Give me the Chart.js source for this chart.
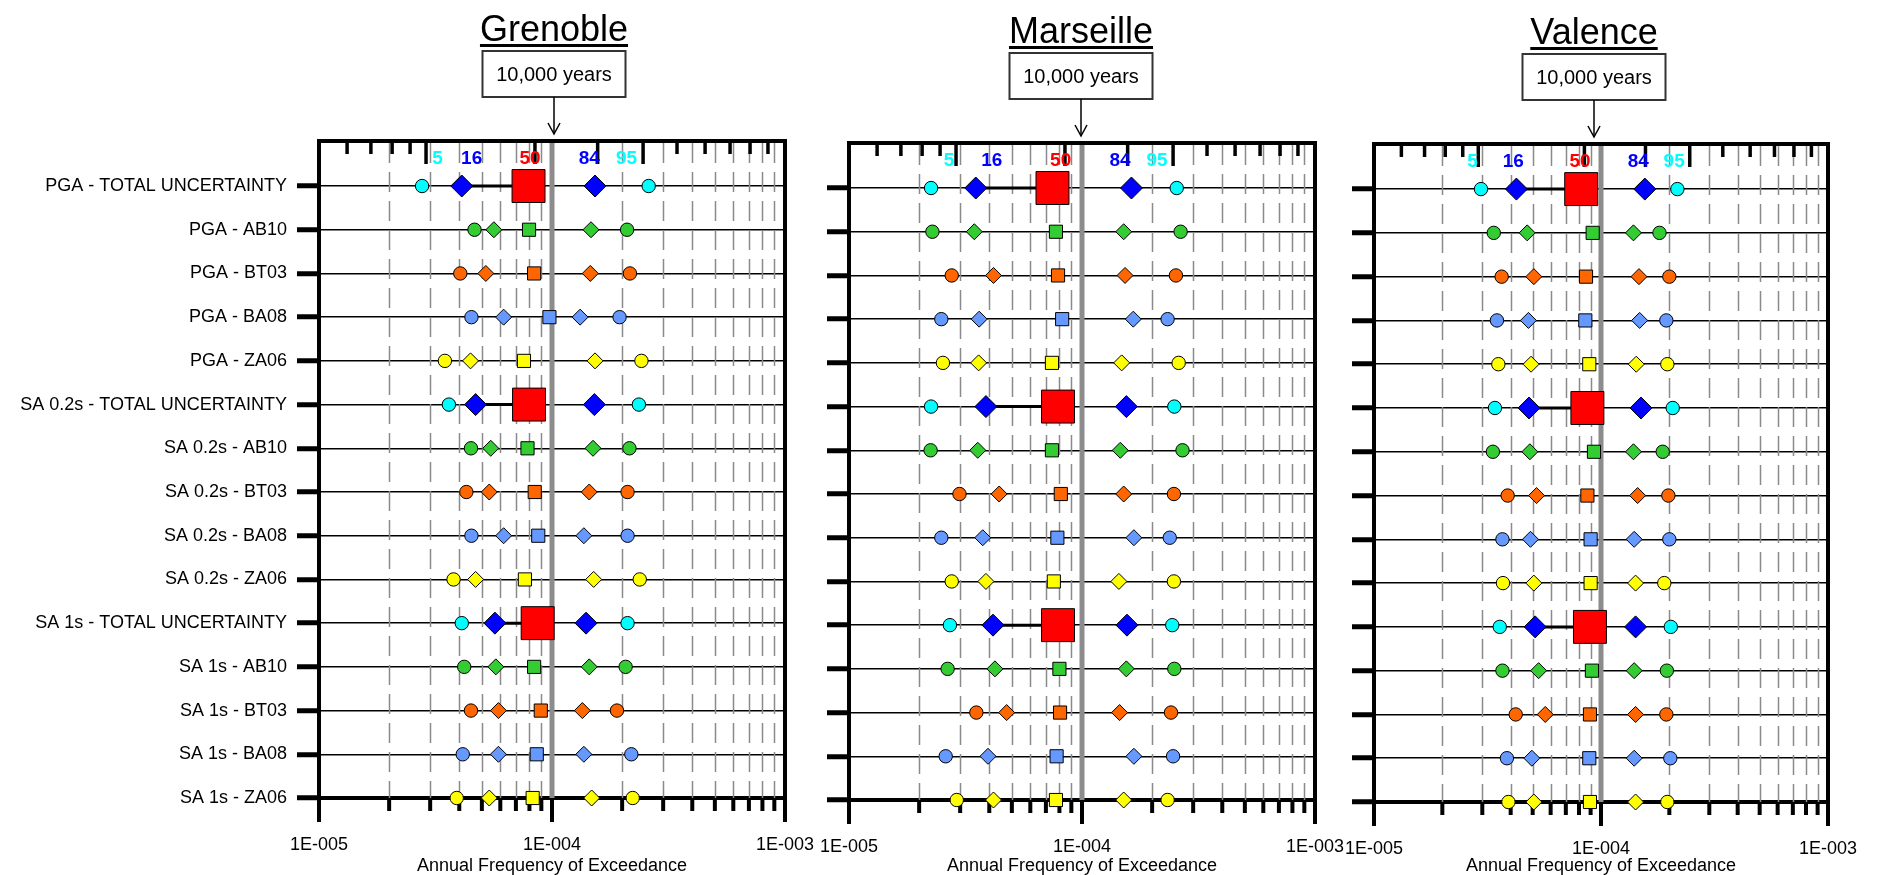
<!DOCTYPE html>
<html><head><meta charset="utf-8">
<script src="https://cdn.jsdelivr.net/npm/chart.js@4/dist/chart.umd.min.js"></script>
<style>
html,body{margin:0;padding:0;background:#fff;width:1877px;height:875px;overflow:hidden;}
canvas{position:absolute;top:0;}
</style></head><body>
<canvas id="g" style="left:0px" width="830" height="875"></canvas>
<canvas id="m" style="left:800px" width="560" height="875"></canvas>
<canvas id="v" style="left:1330px" width="547" height="875"></canvas>
<script>
// ---------- DATA ----------
const categories = [
  'PGA - TOTAL UNCERTAINTY','PGA - AB10','PGA - BT03','PGA - BA08','PGA - ZA06',
  'SA 0.2s - TOTAL UNCERTAINTY','SA 0.2s - AB10','SA 0.2s - BT03','SA 0.2s - BA08','SA 0.2s - ZA06',
  'SA 1s - TOTAL UNCERTAINTY','SA 1s - AB10','SA 1s - BT03','SA 1s - BA08','SA 1s - ZA06'
];
const percentileLabels = ['5','16','50','84','95'];
const xTickValues = [1e-5, 1e-4, 1e-3];
const xTickLabels = ['1E-005','1E-004','1E-003'];
const minorTickValues = [2e-5,3e-5,4e-5,5e-5,6e-5,7e-5,8e-5,9e-5,2e-4,3e-4,4e-4,5e-4,6e-4,7e-4,8e-4,9e-4];
const topTickValues = [1.32e-5,1.67e-5,2.06e-5,2.46e-5,2.88e-5,8.45e-5,1.57e-4,2.46e-4,3.44e-4,4.54e-4,5.81e-4,7.08e-4,8.45e-4];
const topTickLong   = [false,false,false,false,true,true,true,true,false,false,false,false,false];
const referenceFrequency = 1e-4;

// Grenoble
const grenobleP5  = [2.77e-5,4.65e-5,4.04e-5,4.51e-5,3.47e-5,3.61e-5,4.49e-5,4.29e-5,4.51e-5,3.78e-5,4.10e-5,4.20e-5,4.49e-5,4.14e-5,3.90e-5];
const grenobleP16 = [4.10e-5,5.63e-5,5.20e-5,6.20e-5,4.47e-5,4.70e-5,5.46e-5,5.38e-5,6.20e-5,4.70e-5,5.69e-5,5.74e-5,5.89e-5,5.89e-5,5.38e-5];
const grenobleP50 = [7.93e-5,7.97e-5,8.38e-5,9.75e-5,7.58e-5,7.97e-5,7.85e-5,8.43e-5,8.73e-5,7.65e-5,8.68e-5,8.38e-5,8.95e-5,8.60e-5,8.26e-5];
const grenobleP84 = [1.53e-4,1.47e-4,1.46e-4,1.32e-4,1.53e-4,1.52e-4,1.50e-4,1.445e-4,1.37e-4,1.51e-4,1.40e-4,1.445e-4,1.35e-4,1.37e-4,1.48e-4];
const grenobleP95 = [2.60e-4,2.10e-4,2.16e-4,1.95e-4,2.42e-4,2.36e-4,2.15e-4,2.11e-4,2.11e-4,2.38e-4,2.11e-4,2.07e-4,1.90e-4,2.19e-4,2.22e-4];
// Marseille
const marseilleP5  = [2.25e-5,2.28e-5,2.76e-5,2.49e-5,2.53e-5,2.25e-5,2.24e-5,2.98e-5,2.49e-5,2.76e-5,2.71e-5,2.65e-5,3.52e-5,2.60e-5,2.90e-5];
const marseilleP16 = [3.50e-5,3.45e-5,4.17e-5,3.62e-5,3.60e-5,3.87e-5,3.57e-5,4.41e-5,3.75e-5,3.87e-5,4.15e-5,4.23e-5,4.75e-5,3.95e-5,4.17e-5];
const marseilleP50 = [7.47e-5,7.73e-5,7.89e-5,8.22e-5,7.43e-5,7.89e-5,7.43e-5,8.11e-5,7.84e-5,7.57e-5,7.89e-5,8.00e-5,8.05e-5,7.78e-5,7.73e-5];
const marseilleP84 = [1.63e-4,1.51e-4,1.53e-4,1.66e-4,1.48e-4,1.55e-4,1.46e-4,1.51e-4,1.67e-4,1.44e-4,1.56e-4,1.55e-4,1.45e-4,1.67e-4,1.51e-4];
const marseilleP95 = [2.55e-4,2.65e-4,2.53e-4,2.33e-4,2.60e-4,2.49e-4,2.70e-4,2.48e-4,2.38e-4,2.48e-4,2.44e-4,2.49e-4,2.41e-4,2.46e-4,2.33e-4];
// Valence
const valenceP5  = [2.96e-5,3.37e-5,3.65e-5,3.48e-5,3.53e-5,3.41e-5,3.34e-5,3.88e-5,3.68e-5,3.70e-5,3.58e-5,3.68e-5,4.21e-5,3.85e-5,3.91e-5];
const valenceP16 = [4.24e-5,4.73e-5,5.06e-5,4.79e-5,4.92e-5,4.82e-5,4.86e-5,5.20e-5,4.89e-5,5.06e-5,5.13e-5,5.31e-5,5.68e-5,4.96e-5,5.06e-5];
const valenceP50 = [8.18e-5,9.19e-5,8.59e-5,8.53e-5,8.88e-5,8.71e-5,9.31e-5,8.71e-5,9.00e-5,9.00e-5,8.94e-5,9.12e-5,8.94e-5,8.88e-5,8.94e-5];
const valenceP84 = [1.56e-4,1.39e-4,1.47e-4,1.48e-4,1.43e-4,1.50e-4,1.39e-4,1.45e-4,1.40e-4,1.42e-4,1.42e-4,1.40e-4,1.42e-4,1.40e-4,1.42e-4];
const valenceP95 = [2.17e-4,1.81e-4,2.00e-4,1.94e-4,1.96e-4,2.07e-4,1.87e-4,1.98e-4,2.00e-4,1.90e-4,2.03e-4,1.95e-4,1.94e-4,2.02e-4,1.96e-4];

// positions of the percentile captions (as frequencies) per panel
const grenobleLabelAt  = [3.23e-5,4.52e-5,8.05e-5,1.445e-4,2.09e-4];
const marseilleLabelAt = [2.69e-5,4.10e-5,8.10e-5,1.456e-4,2.10e-4];
const valenceLabelAt   = [2.72e-5,4.11e-5,8.08e-5,1.46e-4,2.10e-4];

// ---------- STYLES ----------
const FONT = "'Liberation Sans', Arial, sans-serif";
const modelColor = { 'AB10':'#33CC33', 'BT03':'#FF6600', 'BA08':'#6699FF', 'ZA06':'#FFFF00' };
const totalColors = ['#00FFFF','#0000FF','#FF0000','#0000FF','#00FFFF'];
const labelColors = ['#00FFFF','#0000FF','#FF0000','#0000FF','#00FFFF'];
const pctShapes = ['circle','rectRot','rect','rectRot','circle'];
const modelOf = i => categories[i].split(' - ')[1];
const isTotal = i => modelOf(i) === 'TOTAL UNCERTAINTY';
function colorFor(k, i) { return isTotal(i) ? totalColors[k] : modelColor[modelOf(i)]; }
function sizeFor(k, i) {
  const s = pctShapes[k];
  if (s === 'circle') return 6.7;
  if (s === 'rectRot') return isTotal(i) ? 11 : 8;
  return isTotal(i) ? 23.3 : 9.3;
}

function panelPlugin(cfg) {
  return {
    id: 'panel_' + cfg.id,
    beforeDatasetsDraw(chart) {
      const {ctx, chartArea: a, scales: {x}} = chart;
      ctx.save();
      // dashed vertical grid
      ctx.strokeStyle = '#8a8a8a'; ctx.lineWidth = 1.5; ctx.setLineDash([20, 9]);
      minorTickValues.forEach(v => {
        const px = Math.round(x.getPixelForValue(v)) + 0.5;
        ctx.beginPath(); ctx.moveTo(px, a.top + 2); ctx.lineTo(px, a.bottom); ctx.stroke();
      });
      ctx.setLineDash([]);
      // reference line 1e-4
      const rx = x.getPixelForValue(referenceFrequency);
      ctx.strokeStyle = '#8c8c8c'; ctx.lineWidth = 5;
      ctx.beginPath(); ctx.moveTo(rx, a.top); ctx.lineTo(rx, a.bottom); ctx.stroke();
      // bottom ticks
      ctx.strokeStyle = '#000'; ctx.lineWidth = 4;
      minorTickValues.forEach(v => {
        const px = x.getPixelForValue(v);
        ctx.beginPath(); ctx.moveTo(px, a.bottom); ctx.lineTo(px, a.bottom + 13); ctx.stroke();
      });
      xTickValues.forEach(v => {
        const px = x.getPixelForValue(v);
        ctx.beginPath(); ctx.moveTo(px, a.bottom); ctx.lineTo(px, a.bottom + 24); ctx.stroke();
      });
      // top & right border
      ctx.lineWidth = 4;
      ctx.beginPath(); ctx.moveTo(a.left - 2, a.top); ctx.lineTo(a.right + 2, a.top); ctx.stroke();
      ctx.beginPath(); ctx.moveTo(a.right, a.top - 2); ctx.lineTo(a.right, a.bottom + 24); ctx.stroke();
      // top ticks
      ctx.lineWidth = 3.5;
      topTickValues.forEach((v, j) => {
        const px = x.getPixelForValue(v);
        ctx.beginPath(); ctx.moveTo(px, a.top); ctx.lineTo(px, a.top + (topTickLong[j] ? 23 : 13)); ctx.stroke();
      });
      // percentile captions
      ctx.font = 'bold 19px ' + FONT; ctx.textAlign = 'center'; ctx.textBaseline = 'middle';
      percentileLabels.forEach((t, k) => {
        ctx.fillStyle = labelColors[k];
        ctx.fillText(t, x.getPixelForValue(cfg.labelAt[k]), a.top + 18);
      });
      // title, box, arrow
      const cx = rx + cfg.dx;
      ctx.fillStyle = '#000';
      ctx.font = '36px ' + FONT; ctx.textAlign = 'center'; ctx.textBaseline = 'alphabetic';
      const tb = a.top - 100;
      ctx.fillText(cfg.title, cx, tb);
      const tw = ctx.measureText(cfg.title).width;
      ctx.fillRect(cx - tw / 2, tb + 3, tw, 3);
      ctx.strokeStyle = '#333'; ctx.lineWidth = 2;
      ctx.strokeRect(cx - 71.5, a.top - 90, 143, 46);
      ctx.font = '20px ' + FONT; ctx.textBaseline = 'middle';
      ctx.fillText('10,000 years', cx, a.top - 66);
      ctx.strokeStyle = '#000'; ctx.lineWidth = 1.5;
      ctx.beginPath(); ctx.moveTo(cx, a.top - 44); ctx.lineTo(cx, a.top - 7); ctx.stroke();
      ctx.beginPath(); ctx.moveTo(cx - 6, a.top - 18); ctx.lineTo(cx, a.top - 7); ctx.lineTo(cx + 6, a.top - 18); ctx.stroke();
      ctx.restore();
    }
  };
}

function makePanel(cfg) {
  const datasets = [];
  categories.forEach((c, i) => {
    if (isTotal(i)) {
      datasets.push({
        data: [{x: cfg.values[1][i], y: i}, {x: cfg.values[2][i], y: i}],
        showLine: true, borderColor: '#000', borderWidth: 3, pointRadius: 0, order: 10, clip: false
      });
    }
  });
  pctShapes.forEach((shape, k) => {
    datasets.push({
      data: cfg.values[k].map((v, i) => ({x: v, y: i})),
      pointStyle: shape,
      pointRadius: ctx => sizeFor(k, ctx.dataIndex),
      pointBackgroundColor: ctx => colorFor(k, ctx.dataIndex),
      pointBorderColor: '#000', pointBorderWidth: 1,
      showLine: false, order: 0, clip: false
    });
  });
  new Chart(document.getElementById(cfg.id), {
    type: 'scatter',
    data: { datasets },
    options: {
      responsive: false, animation: false, events: [],
      layout: { padding: { top: cfg.top, right: cfg.padRight, left: 0, bottom: 0 } },
      plugins: { legend: { display: false }, tooltip: { enabled: false } },
      scales: {
        x: {
          type: 'logarithmic', position: 'bottom', min: 1e-5, max: 1e-3,
          afterBuildTicks: s => { s.ticks = xTickValues.map(v => ({value: v})); },
          afterFit: s => { s.height = cfg.xh; s.paddingLeft = 0; s.paddingRight = 0; },
          ticks: { autoSkip: false, maxRotation: 0, padding: 28, color: '#000',
                   font: { family: FONT, size: 18 }, callback: (v, i) => xTickLabels[i] },
          grid: { display: false },
          border: { display: true, color: '#000', width: 4 },
          title: { display: true, text: 'Annual Frequency of Exceedance', color: '#000',
                   font: { family: FONT, size: 18, lineHeight: 1 }, padding: { top: 0, bottom: 0 } }
        },
        y: {
          type: 'linear', reverse: true, min: -1.03, max: 14,
          afterBuildTicks: s => { s.ticks = categories.map((c, i) => ({value: i})); },
          afterFit: s => { s.width = cfg.yw; s.paddingTop = 0; s.paddingBottom = 0; },
          ticks: { autoSkip: false, padding: 10, color: '#000', font: { family: FONT, size: 18 },
                   callback: v => cfg.showLabels ? categories[v] : '' },
          grid: { color: '#000', lineWidth: 1.5, tickLength: 22, tickWidth: 5, tickColor: '#000', drawOnChartArea: true },
          border: { display: true, color: '#000', width: 4 }
        }
      }
    },
    plugins: [panelPlugin(cfg)]
  });
}

makePanel({ id: 'g', title: 'Grenoble', dx: 2, top: 141, padRight: 45, xh: 77, yw: 319, showLabels: true,
  values: [grenobleP5, grenobleP16, grenobleP50, grenobleP84, grenobleP95], labelAt: grenobleLabelAt });
makePanel({ id: 'm', title: 'Marseille', dx: -1, top: 143, padRight: 45, xh: 75, yw: 49, showLabels: false,
  values: [marseilleP5, marseilleP16, marseilleP50, marseilleP84, marseilleP95], labelAt: marseilleLabelAt });
makePanel({ id: 'v', title: 'Valence', dx: -7, top: 144, padRight: 49, xh: 73, yw: 44, showLabels: false,
  values: [valenceP5, valenceP16, valenceP50, valenceP84, valenceP95], labelAt: valenceLabelAt });
</script>
</body></html>
